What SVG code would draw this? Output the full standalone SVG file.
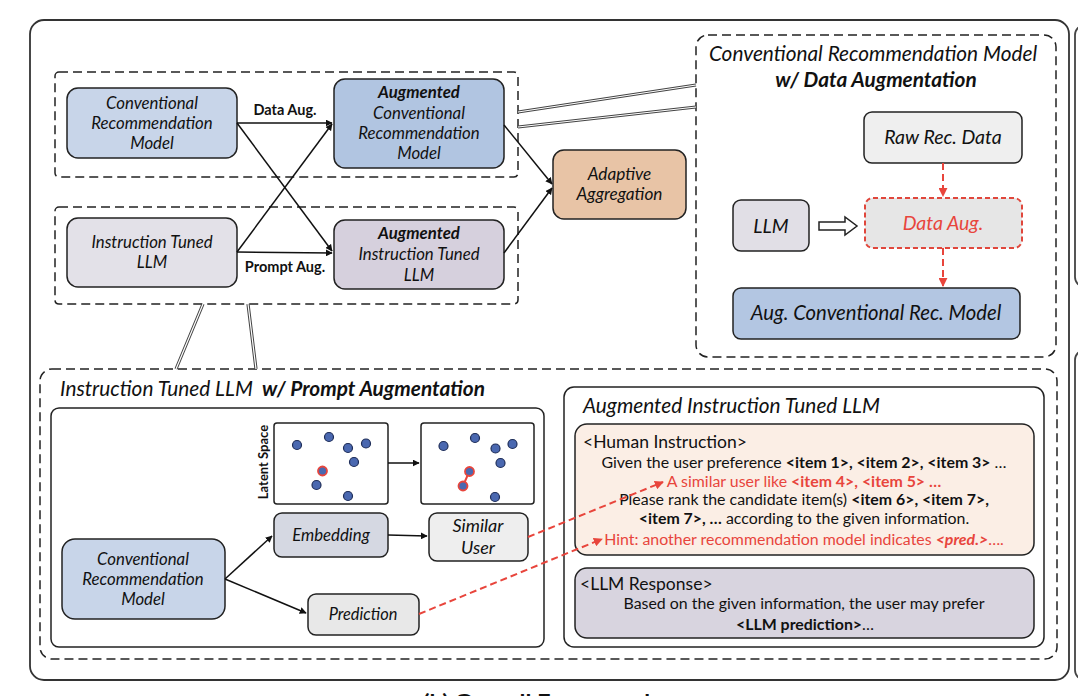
<svg xmlns="http://www.w3.org/2000/svg" width="1078" height="696" viewBox="0 0 1078 696">
<defs>
<marker id="ah" viewBox="0 0 10 10" refX="9" refY="5" markerWidth="7" markerHeight="7" orient="auto" markerUnits="userSpaceOnUse">
<path d="M0,0 L10,5 L0,10 z" fill="#111"/>
</marker>
<marker id="ahr" viewBox="0 0 10 10" refX="9" refY="5" markerWidth="9" markerHeight="9" orient="auto" markerUnits="userSpaceOnUse">
<path d="M0,0 L10,5 L0,10 z" fill="#e8453c"/>
</marker>
<style>
text{font-family:Lato,"Liberation Sans",sans-serif;fill:#111}
.n{stroke:#222;stroke-width:1.5}
.grp{fill:none;stroke:#222;stroke-width:1.5;stroke-dasharray:9 5}
.it{font-style:italic}
.b{font-weight:bold}
.c{text-anchor:middle}
.s16{font-size:16.8px}
.s19{font-size:19.5px}
.s21{font-size:20.8px}
.body{font-size:15.9px}
.hdr{font-size:17.5px}
.red{fill:#e8453c}
.ln{stroke:#111;stroke-width:1.5;fill:none}
.rd{stroke:#e8453c;stroke-width:2;stroke-dasharray:7 4;fill:none}
.dot{fill:#4a68b0;stroke:#1e2d58;stroke-width:1.2}
.dotr{fill:#4a68b0;stroke:#e8453c;stroke-width:1.8}
.dbl1{stroke:#444;stroke-width:3.2;fill:none}
.dbl2{stroke:#fff;stroke-width:1.2;fill:none}
</style>
</defs>
<rect width="1078" height="696" fill="#fff"/>
<!-- outer frame and side panels -->
<rect x="30" y="20" width="1039" height="660" rx="14" fill="none" stroke="#333" stroke-width="1.8"/>
<rect x="1075" y="25" width="40" height="262" rx="10" fill="none" stroke="#444" stroke-width="1.8"/>
<rect x="1075" y="350" width="40" height="330" rx="10" fill="none" stroke="#444" stroke-width="1.8"/>
<text x="540" y="708" class="b c" font-size="18" textLength="234" lengthAdjust="spacingAndGlyphs">(b) Overall Framework</text>

<!-- group boxes -->
<g id="group-data">
<rect x="55" y="72" width="463" height="105" rx="4" class="grp"/>
</g>
<g id="group-prompt">
<rect x="55" y="207" width="463" height="97" rx="4" class="grp"/>
</g>

<g id="crm-top">
<rect x="67" y="88" width="170" height="70" rx="11" fill="#c8d5e9" class="n"/>
<text class="it c s16" x="152" y="109">Conventional</text>
<text class="it c s16" x="152" y="129">Recommendation</text>
<text class="it c s16" x="152" y="149">Model</text>
</g>
<g id="aug-crm">
<rect x="334" y="79" width="170" height="89" rx="11" fill="#b1c5e1" class="n"/>
<text class="it b c s16" x="419" y="98">Augmented</text>
<text class="it c s16" x="419" y="119">Conventional</text>
<text class="it c s16" x="419" y="139">Recommendation</text>
<text class="it c s16" x="419" y="159">Model</text>
</g>
<g id="itl">
<rect x="67" y="218" width="170" height="69" rx="11" fill="#e3e1e8" class="n"/>
<text class="it c s16" x="152" y="248">Instruction Tuned</text>
<text class="it c s16" x="152" y="268">LLM</text>
</g>
<g id="aug-itl">
<rect x="334" y="220" width="170" height="69" rx="11" fill="#d6d0dd" class="n"/>
<text class="it b c s16" x="419" y="239">Augmented</text>
<text class="it c s16" x="419" y="260">Instruction Tuned</text>
<text class="it c s16" x="419" y="281">LLM</text>
</g>
<g id="adaptive">
<rect x="553" y="150" width="133" height="69" rx="11" fill="#e8c4a6" class="n"/>
<text class="it c" font-size="17.2" x="619.5" y="180">Adaptive</text>
<text class="it c" font-size="17.2" x="619.5" y="200">Aggregation</text>
</g>

<!-- data augmentation panel -->
<g id="panel-data">
<rect x="696" y="35" width="360" height="322" rx="12" class="grp"/>
<text class="it c s21" x="873" y="61">Conventional Recommendation Model</text>
<text class="it b c s21" x="876" y="87">w/ Data Augmentation</text>
</g>
<g id="raw">
<rect x="864" y="112" width="158" height="51" rx="8" fill="#efefef" class="n"/>
<text class="it c s19" x="943" y="144">Raw Rec. Data</text>
</g>
<g id="dataaug">
<rect x="865" y="198" width="157" height="50" rx="8" fill="#e6e6e6" stroke="#e0473c" stroke-width="2" stroke-dasharray="5 3"/>
<text class="it c s19 red" x="943" y="230">Data Aug.</text>
</g>
<g id="llm">
<rect x="733" y="200" width="76" height="51" rx="8" fill="#e1dfe6" class="n"/>
<text class="it c s19" x="771" y="233">LLM</text>
</g>
<g id="augconv">
<rect x="733" y="288" width="287" height="51" rx="8" fill="#b3c6e2" class="n"/>
<text class="it c" font-size="20.3" x="876" y="320">Aug. Conventional Rec. Model</text>
</g>

<!-- prompt augmentation panel -->
<g id="panel-prompt">
<rect x="40" y="369" width="1017" height="290" rx="12" class="grp"/>
<text class="s21" x="60" y="396"><tspan class="it">Instruction Tuned LLM</tspan><tspan class="it b" x="262">w/ Prompt Augmentation</tspan></text>
</g>
<g id="left-inner">
<rect x="51" y="408" width="493" height="239" rx="8" fill="none" class="n"/>
</g>
<g id="latent1">
<rect x="274" y="423" width="114" height="81" rx="3" fill="#fff" class="n"/>
<text class="b c" font-size="13" transform="translate(268,462) rotate(-90)">Latent Space</text>
<circle class="dot" cx="297" cy="445" r="4.5"/>
<circle class="dot" cx="329" cy="437" r="4.5"/>
<circle class="dot" cx="348" cy="448" r="4.5"/>
<circle class="dot" cx="366" cy="443.5" r="4.5"/>
<circle class="dot" cx="354" cy="462" r="4.5"/>
<circle class="dotr" cx="322.5" cy="471" r="4.5"/>
<circle class="dot" cx="316.5" cy="485" r="4.5"/>
<circle class="dot" cx="348" cy="496" r="4.5"/>
</g>
<g id="latent2">
<rect x="421" y="423" width="113" height="81" rx="3" fill="#fff" class="n"/>
<line x1="469" y1="472" x2="463" y2="486" stroke="#e8453c" stroke-width="2"/>
<circle class="dot" cx="443.5" cy="446" r="4.5"/>
<circle class="dot" cx="475" cy="438" r="4.5"/>
<circle class="dot" cx="495.5" cy="448.5" r="4.5"/>
<circle class="dot" cx="512.5" cy="444" r="4.5"/>
<circle class="dot" cx="500.5" cy="463" r="4.5"/>
<circle class="dotr" cx="469.5" cy="471.5" r="4.5"/>
<circle class="dotr" cx="463" cy="486" r="4.5"/>
<circle class="dot" cx="495" cy="497" r="4.5"/>
</g>
<g id="embedding">
<rect x="274" y="513" width="114" height="44" rx="8" fill="#d5d8e2" class="n"/>
<text class="it c s16" x="331" y="541">Embedding</text>
</g>
<g id="similar">
<rect x="429" y="513" width="99" height="48" rx="8" fill="#eeeeee" class="n"/>
<text class="it c" font-size="18" x="478" y="532">Similar</text>
<text class="it c" font-size="18" x="478" y="554">User</text>
</g>
<g id="crm-bottom">
<rect x="62" y="539" width="163" height="80" rx="13" fill="#c8d5e9" class="n"/>
<text class="it c s16" x="143" y="565">Conventional</text>
<text class="it c s16" x="143" y="585">Recommendation</text>
<text class="it c s16" x="143" y="605">Model</text>
</g>
<g id="prediction">
<rect x="308" y="594" width="111" height="41" rx="8" fill="#e8e8e8" class="n"/>
<text class="it c" font-size="16.4" x="363" y="620">Prediction</text>
</g>

<!-- augmented instruction tuned LLM -->
<g id="aug-itl-panel">
<rect x="564" y="387" width="480" height="260" rx="10" fill="none" class="n"/>
<text class="it s21" x="583" y="413">Augmented Instruction Tuned LLM</text>
</g>
<g id="human">
<rect x="575" y="424" width="459" height="131" rx="12" fill="#fbeee5" class="n"/>
<text class="hdr" x="583" y="448">&lt;Human Instruction&gt;</text>
<text class="body c" x="804" y="468">Given the user preference <tspan class="b">&lt;item 1&gt;, &lt;item 2&gt;, &lt;item 3&gt;</tspan> …</text>
<text class="body c red" x="804" y="487">A similar user like <tspan class="b red">&lt;item 4&gt;, &lt;item 5&gt; …</tspan></text>
<text class="body c" x="804" y="505">Please rank the candidate item(s) <tspan class="b">&lt;item 6&gt;, &lt;item 7&gt;,</tspan></text>
<text class="body c" x="804" y="524"><tspan class="b">&lt;item 7&gt;, …</tspan> according to the given information.</text>
<text class="body c red" x="804" y="545">Hint: another recommendation model indicates <tspan class="b it red">&lt;pred.&gt;</tspan>….</text>
</g>
<g id="response">
<rect x="575" y="568" width="459" height="70" rx="12" fill="#d8d4df" class="n"/>
<text class="hdr" x="580" y="590">&lt;LLM Response&gt;</text>
<text class="body c" x="804" y="609">Based on the given information, the user may prefer</text>
<text class="body c" x="805" y="630"><tspan class="b">&lt;LLM prediction&gt;</tspan>…</text>
</g>

<!-- connectors -->
<g id="connectors">
<path class="ln" d="M237,123 L332,123" marker-end="url(#ah)"/>
<path class="ln" d="M237,123 L332,251" marker-end="url(#ah)"/>
<path class="ln" d="M237,252 L332,124" marker-end="url(#ah)"/>
<path class="ln" d="M237,252 L332,253" marker-end="url(#ah)"/>
<path class="ln" d="M504,125 L552,184" marker-end="url(#ah)"/>
<path class="ln" d="M504,253 L552,188" marker-end="url(#ah)"/>
<text class="b c" font-size="14.5" x="285" y="115">Data Aug.</text>
<text class="b c" font-size="14.5" x="285" y="272">Prompt Aug.</text>
<path class="dbl1" d="M518,112 L696,85 M518,127 L696,107"/>
<path class="dbl2" d="M518,112 L696,85 M518,127 L696,107"/>
<path class="dbl1" d="M203,304 L176,369 M248,304 L256,369"/>
<path class="dbl2" d="M203,304 L176,369 M248,304 L256,369"/>
<path class="rd" d="M943,163 L943,196" marker-end="url(#ahr)"/>
<path class="rd" d="M943,248 L943,286" marker-end="url(#ahr)"/>
<polygon points="819,222 845,222 845,217 857,226 845,235 845,230 819,230" fill="#fff" stroke="#222" stroke-width="1.5"/>
<path class="ln" d="M388,463 L419,463" marker-end="url(#ah)"/>
<path class="ln" d="M388,535 L427,536" marker-end="url(#ah)"/>
<path class="ln" d="M225,579 L272,536" marker-end="url(#ah)"/>
<path class="ln" d="M225,579 L306,613" marker-end="url(#ah)"/>
<path class="rd" d="M528,537 L663,482" marker-end="url(#ahr)"/>
<path class="rd" d="M419,614 L602,539" marker-end="url(#ahr)"/>
</g>
</svg>
